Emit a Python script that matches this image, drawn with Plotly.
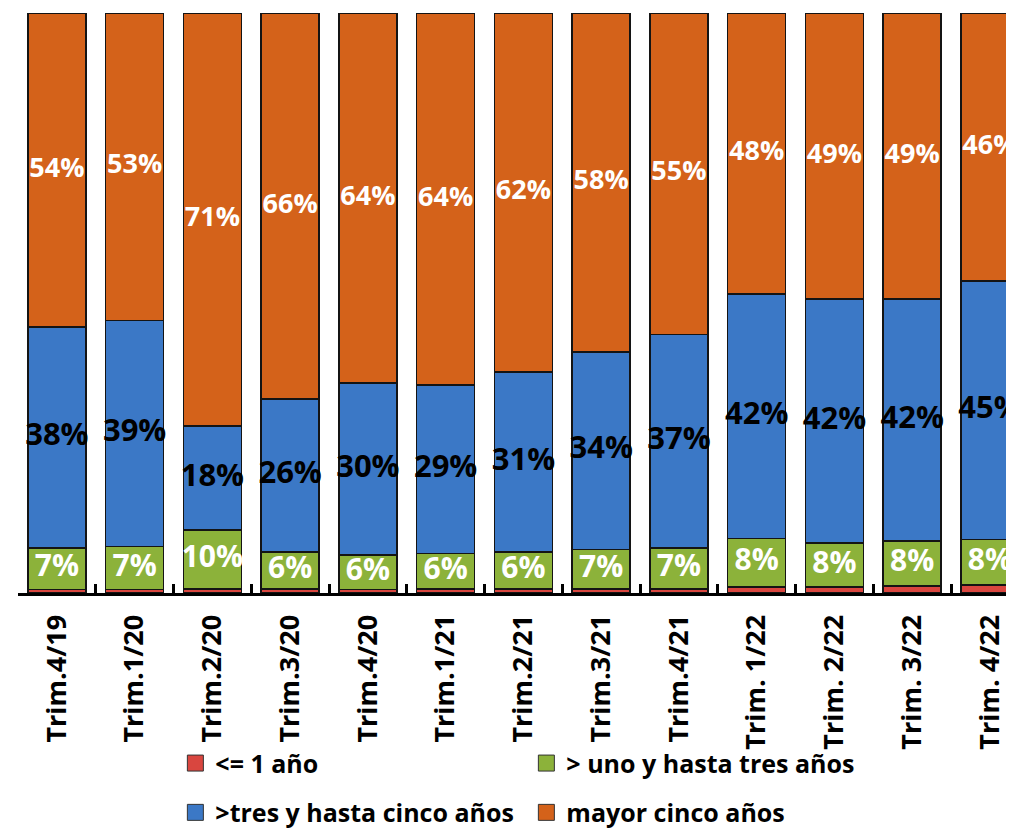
import plotly.graph_objects as go

categories = ["Trim.4/19", "Trim.1/20", "Trim.2/20", "Trim.3/20", "Trim.4/20", "Trim.1/21",
              "Trim.2/21", "Trim.3/21", "Trim.4/21", "Trim. 1/22", "Trim. 2/22", "Trim. 3/22", "Trim. 4/22"]
hasta_1 = [0.6, 0.6, 0.7, 0.7, 0.6, 0.7, 0.7, 0.7, 0.7, 1.0, 1.0, 1.2, 1.4]
uno_tres = [7.2, 7.4, 10.2, 6.4, 6.0, 6.1, 6.4, 6.8, 7.1, 8.4, 7.6, 7.8, 7.8]
tres_cinco = [38.1, 39.0, 17.9, 26.4, 29.6, 29.1, 31.0, 34.1, 36.8, 42.2, 42.1, 41.7, 44.6]
mayor_cinco = [54.1, 53.0, 71.2, 66.4, 63.8, 64.1, 61.9, 58.4, 55.4, 48.4, 49.3, 49.3, 46.2]

names = ["&lt;= 1 año", "> uno y hasta tres años", ">tres y hasta cinco años", "mayor cinco años"]
colors = ["#D9463F", "#8CB23A", "#3B78C6", "#D4621A"]
series = [hasta_1, uno_tres, tres_cinco, mayor_cinco]
legends = ["legend", "legend", "legend2", "legend2"]

FONT = "Open Sans"
fig = go.Figure()
for s, n, c in zip(series, names, colors):
    fig.add_trace(go.Bar(
        x=categories, y=s, name=n, showlegend=False,
        marker=dict(color=c, line=dict(color="#141414", width=1.6)),
        textposition="none", hoverinfo="skip",
    ))

# legend entries (larger square swatches)
for n, c, lg in zip(names, colors, legends):
    fig.add_trace(go.Scatter(
        x=[None], y=[None], mode="markers", name=n, legend=lg,
        marker=dict(symbol="square", size=17, color=c, line=dict(color="#333333", width=1)),
        hoverinfo="skip",
    ))

# data labels via text traces (no auto shrinking)
def mids(idx):
    out = []
    for i in range(len(categories)):
        base = sum(series[k][i] for k in range(idx))
        out.append(base + series[idx][i] / 2)
    return out

label_specs = [(1, "white", 30), (2, "black", 31), (3, "white", 27)]
for idx, col, size in label_specs:
    fig.add_trace(go.Scatter(
        x=categories, y=mids(idx), mode="text",
        text=[f"{round(v)}%" for v in series[idx]],
        textfont=dict(family=FONT, size=size, color=col, weight="bold"),
        showlegend=False, hoverinfo="skip", cliponaxis=False,
    ))

legend_common = dict(
    orientation="h", xanchor="left", yanchor="top",
    entrywidth=306, entrywidthmode="pixels",
    font=dict(family=FONT, size=25, color="black", weight="bold"),
    bgcolor="rgba(0,0,0,0)", itemclick=False, itemdoubleclick=False,
    traceorder="normal",
)

fig.update_layout(
    barmode="stack",
    bargap=0.254,
    width=1006, height=821,
    margin=dict(l=10, r=0, t=5, b=236, autoexpand=False),
    plot_bgcolor="white", paper_bgcolor="white",
    font=dict(family=FONT, color="black"),
    xaxis=dict(
        range=[-0.5, 12.31], automargin=False,
        showline=True, linecolor="black", linewidth=3,
        ticks="inside", tickson="boundaries", ticklen=9, tickwidth=3, tickcolor="black",
        tickangle=-90, ticklabelstandoff=8,
        tickfont=dict(family=FONT, size=27, color="black", weight="bold"),
        showgrid=False, zeroline=False,
    ),
    yaxis=dict(range=[0, 100], visible=False, automargin=False),
    legend=dict(legend_common, x=0.158, y=-0.254),
    legend2=dict(legend_common, x=0.158, y=-0.339),
    showlegend=True,
)

fig.write_html("out.html")
